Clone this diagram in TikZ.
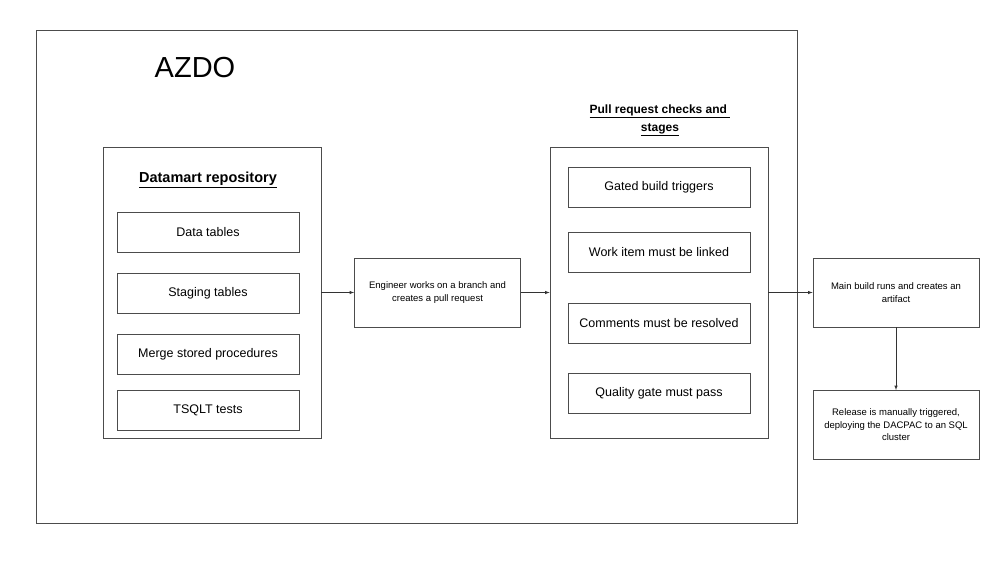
\documentclass[tikz,border=0pt]{standalone}
\usepackage{fontspec}
\setmainfont{Liberation Sans}
\usetikzlibrary{positioning}
\tikzset{
  box/.style={draw=black!70,line width=0.8pt,minimum width=182pt,minimum height=40pt,font=\fontsize{12.5}{14}\selectfont,inner sep=2pt},
  stepbox/.style={draw=black!70,line width=0.8pt,minimum width=166pt,minimum height=69pt,align=center,font=\fontsize{9.5}{12.5}\selectfont},
  frame/.style={draw=black!70,line width=0.8pt},
  flow/.style={->,>=latex,line width=0.6pt,black!80}
}
\begin{document}
\begin{tikzpicture}[x=1pt,y=-1pt]
\useasboundingbox (0,0) rectangle (1002,568);

% Outer frame
\draw[frame] (36,30) rectangle (797,523);
\node[font=\fontsize{29}{32}\selectfont] (azdo) at (195,68) {AZDO};

% Datamart repository
\node[frame,minimum width=218pt,minimum height=291pt,inner sep=0pt] (repo) at (212,292.5) {};
\node[font=\fontsize{14.5}{16}\selectfont\bfseries] (repotitle) at (208,180) {\underline{Datamart repository}};
\node[box] (data) at (208,232) {Data tables};
\node[box] (staging) at (208,293) {Staging tables};
\node[box] (merge) at (208,354) {Merge stored procedures};
\node[box] (tsqlt) at (208,410) {TSQLT tests};

% Engineer
\node[stepbox] (eng) at (437.5,292.5) {Engineer works on a branch and\\creates a pull request};

% Pull request checks
\node[frame,minimum width=218pt,minimum height=291pt,inner sep=0pt] (pr) at (659,292.5) {};
\node[font=\fontsize{12}{18}\selectfont\bfseries,align=center] (prtitle) at (660,120) {\underline{Pull request checks and }\\\underline{stages}};
\node[box] (gated) at (659,187) {Gated build triggers};
\node[box] (work) at (659,252) {Work item must be linked};
\node[box] (comments) at (659,323) {Comments must be resolved};
\node[box] (quality) at (659,393) {Quality gate must pass};

% Build and release
\node[stepbox] (main) at (896,292.5) {Main build runs and creates an\\artifact};
\node[stepbox] (release) at (896,425) {Release is manually triggered,\\deploying the DACPAC to an SQL\\cluster};

% Flow
\draw[flow] (repo) -- (eng);
\draw[flow] (eng) -- (pr);
\draw[flow] (pr) -- (main);
\draw[flow] (main) -- (release);
\end{tikzpicture}
\end{document}
